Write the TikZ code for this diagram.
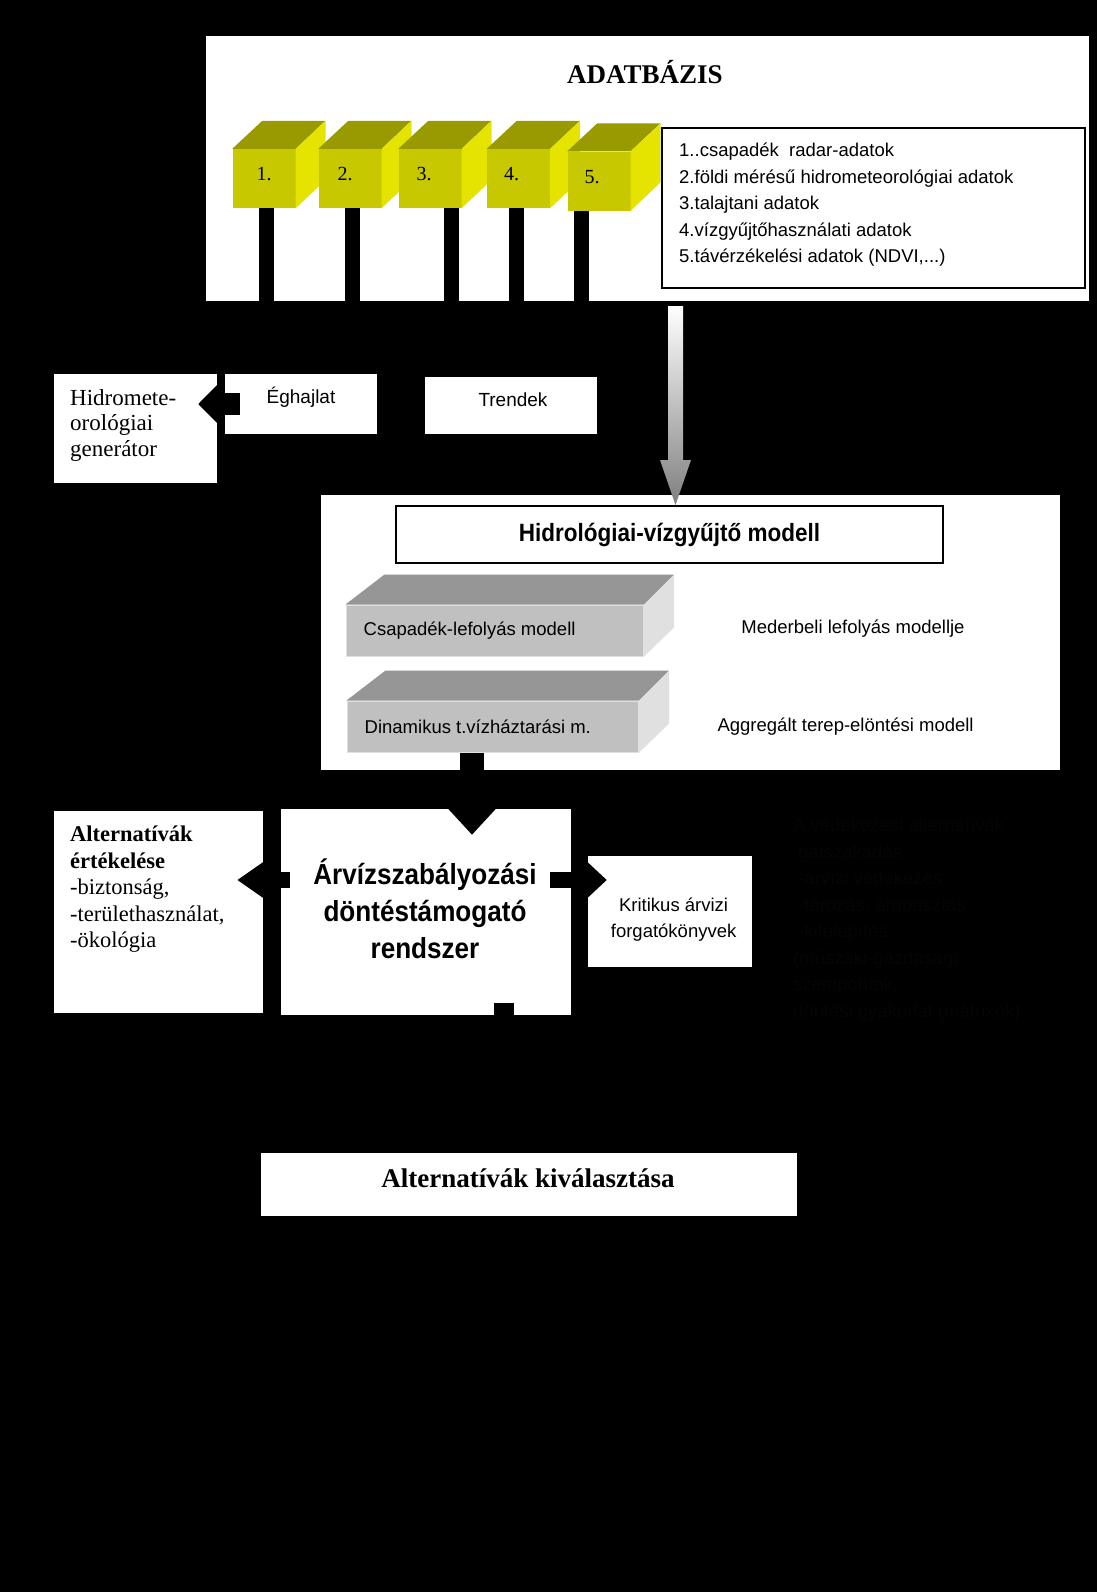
\documentclass[tikz,border=0pt]{standalone}
\usepackage{fontspec}
\setmainfont{Liberation Serif}
\setsansfont{Liberation Sans}
\newfontfamily\narrowsf[FakeStretch=0.9]{Liberation Sans}
\usetikzlibrary{arrows.meta,positioning,calc}
\definecolor{cubefront}{HTML}{C8C800}
\definecolor{cubetop}{HTML}{999900}
\definecolor{cubeside}{HTML}{E4E400}
\definecolor{slabfront}{HTML}{C0C0C0}
\definecolor{slabtop}{HTML}{969696}
\definecolor{slabside}{HTML}{E0E0E0}
\definecolor{hidden}{HTML}{050505}
\tikzset{panel/.style={fill=white,inner sep=0pt},
  framebox/.style={draw=black,line width=2pt,fill=white,inner sep=0pt},
  cubebox/.style={fill=cubefront,minimum width=63pt,minimum height=59pt,inner sep=0pt},
  cubelabel/.style={font=\fontsize{20}{24}\selectfont,inner sep=0pt},
  slabbox/.style={fill=slabfront,draw=slabside,line width=1pt,minimum height=51pt,inner sep=0pt},
  sftext/.style={font=\sffamily\fontsize{18.5}{26.5}\selectfont,inner sep=0pt},
  rmtext/.style={font=\fontsize{23}{25.5}\selectfont,inner sep=0pt},
  stem/.style={line width=15pt},
  fatarrow/.style={line width=22pt,-{Triangle[length=19pt,width=37pt]}},
  downarrow/.style={line width=24pt,-{Triangle[length=26pt,width=46pt]}},
  sidearrow/.style={line width=16pt,-{Triangle[length=#1,width=34pt]}},
  sidearrow/.default=22pt}

\begin{document}
\begin{tikzpicture}[x=1pt,y=-1pt]
\fill[black] (0,0) rectangle (1097,1592);
\useasboundingbox (0,0) rectangle (1097,1592);

% database
\node[panel,minimum width=883pt,minimum height=265pt] (db) at (647.5,168.5) {};
\node[font=\bfseries\fontsize{27}{30}\selectfont] (dbtitle) at (645,72) {ADATBÁZIS};
\foreach \i/\x/\y/\lx in {1/264/178.5/0,2/350/178.5/-5,3/430/178.5/-6,4/518.5/178.5/-7,5/599/181/-7}{
  \node[cubebox] (c\i) at (\x,\y) {};
  \fill[cubetop] (c\i.north west) -- ++(30,-28) -- ++(63,0) -- (c\i.north east) -- cycle;
  \fill[cubeside] (c\i.north east) -- ++(30,-28) -- ++(0,59) -- (c\i.south east) -- cycle;
  \node[cubelabel] (l\i) at ([xshift=\lx pt,yshift=4pt]c\i.center) {\i.};
}
\node[framebox,minimum width=423pt,minimum height=160pt] (legend) at (873.5,208) {};
\node[sftext,anchor=west,align=left] (legtext) at (679,205)
  {1..csapadék\ \ radar-adatok\\2.földi mérésű hidrometeorológiai adatok\\3.talajtani adatok\\
   4.vízgyűjtőhasználati adatok\\5.távérzékelési adatok (NDVI,...)};

% climate, trends
\node[panel,minimum width=163pt,minimum height=109pt] (generator) at (135.5,428.5) {};
\node[rmtext,anchor=north west,align=left] (gentext) at (70,389) {Hidromete-\\orológiai\\generátor};
\node[panel,minimum width=152pt,minimum height=60pt] (eghajlat) at (301,404) {};
\node[panel,minimum width=172pt,minimum height=57pt] (trendek) at (511,405.5) {};
\node[font=\sffamily\fontsize{19}{22}\selectfont] (eghtext) at (301,397) {Éghajlat};
\node[font=\sffamily\fontsize{19}{22}\selectfont] (trtext) at (513,399.5) {Trendek};
\foreach \i/\sx/\t in {1/266/eghajlat,2/352/eghajlat,3/451/trendek,4/516/trendek,5/581/trendek}{
  \coordinate (s\i) at (\sx,0);
  \draw[stem] (s\i |- c\i.south) -- (s\i |- \t.north);
}
\coordinate (egtip) at ([xshift=-19pt]generator.east);
\draw[fatarrow] ([xshift=15pt]eghajlat.west) -- (egtip |- eghajlat.west);

% hydrological model
\node[panel,minimum width=739pt,minimum height=275pt] (model) at (690.5,632.5) {};
\node[framebox,minimum width=547pt,minimum height=57pt,
  font=\narrowsf\bfseries\fontsize{25}{28}\selectfont] (hidtitle) at (669.5,534.5) {Hidrológiai-vízgyűjtő modell};
\coordinate (gtop) at (675.5,306);
\coordinate (gtip) at (gtop |- hidtitle.north);
\shade[top color=white,bottom color=gray] ($(gtop)+(-7.5,0)$) -- ($(gtop)+(7.5,0)$)
  -- ($(gtip)+(7.5,-45)$) -- ($(gtip)+(15.5,-45)$) -- (gtip) -- ($(gtip)+(-15.5,-45)$)
  -- ($(gtip)+(-7.5,-45)$) -- cycle;
\foreach \n/\x/\y/\w/\t in {rain/494.75/630.5/297.5/Csapadék-lefolyás modell,
  soil/492.8/726.5/291.6/Dinamikus t.vízháztarási m.}{
  \node[slabbox,minimum width=\w pt] (\n) at (\x,\y) {};
  \fill[slabtop] (\n.north west) -- ++(39,-30) -- ($(\n.north east)+(30,-30)$) -- (\n.north east) -- cycle;
  \fill[slabside] (\n.north east) -- ++(30,-30) -- ($(\n.south east)+(30,-29)$) -- (\n.south east) -- cycle;
  \node[sftext,anchor=west] (\n-t) at ([xshift=18pt]\n.west) {\t};
}
\node[sftext] (meder) at (853,628.5) {Mederbeli lefolyás modellje};
\node[sftext] (terep) at (845.6,727) {Aggregált terep-elöntési modell};

% decision support
\node[panel,minimum width=290pt,minimum height=206pt] (dss) at (426,912) {};
\node[align=center,inner sep=0pt,font=\narrowsf\bfseries\fontsize{29}{37}\selectfont] (dsstext) at (425,909)
  {Árvízszabályozási\\döntéstámogató\\rendszer};
\coordinate (dx) at (472,0);
\coordinate (dtip) at ($(dss.north)+(0,26)$);
\draw[downarrow] (dx |- soil.south) -- (dx |- dtip);
\node[panel,minimum width=209pt,minimum height=202pt] (eval) at (158.5,912) {};
\node[rmtext,font=\fontsize{22.5}{26.5}\selectfont,anchor=north west,align=left] (evaltext) at (70,826)
  {\textbf{Alternatívák}\\\textbf{értékelése}\\-biztonság,\\-területhasználat,\\-ökológia};
\node[panel,minimum width=164pt,minimum height=111pt] (krit) at (670,911.5) {};
\node[sftext,align=center,font=\sffamily\fontsize{18.5}{26}\selectfont] (krittext) at (673.6,920) {Kritikus árvizi\\forgatókönyvek};
\coordinate (arow) at (0,880);
\coordinate (lfrom) at ($(dss.west)+(9,0)$);
\coordinate (lto) at ($(eval.east)+(-26,0)$);
\coordinate (rfrom) at ($(dss.east)+(-21,0)$);
\coordinate (rto) at ($(krit.west)+(19,0)$);
\draw[sidearrow=26pt] (lfrom |- arow) -- (lto |- arow);
\draw[sidearrow=19pt] (rfrom |- arow) -- (rto |- arow);
\node[sftext,anchor=north west,align=left,text=hidden] (notes) at (793,818)
  {A védekezési alternatívák\\\hspace{5pt}gátszakadás\\\hspace{5pt}-árvízi védekezés\\
   \hspace{5pt}-tározás, árapasztás\\\hspace{5pt}-kitelepítés\\(műszaki-gazdasági\\szempontok,\\
   döntési gyakorlat (mátrixok)};

% selection
\node[panel,minimum width=536pt,minimum height=63pt] (select) at (529,1184.5) {};
\node[font=\bfseries\fontsize{27}{30}\selectfont] (seltext) at (528,1178) {Alternatívák kiválasztása};
\coordinate (bfrom) at ($(dss.south)+(78,-12)$);
\draw[sidearrow=20pt,line width=20pt] (bfrom) -- (bfrom |- select.north);
\end{tikzpicture}
\end{document}
